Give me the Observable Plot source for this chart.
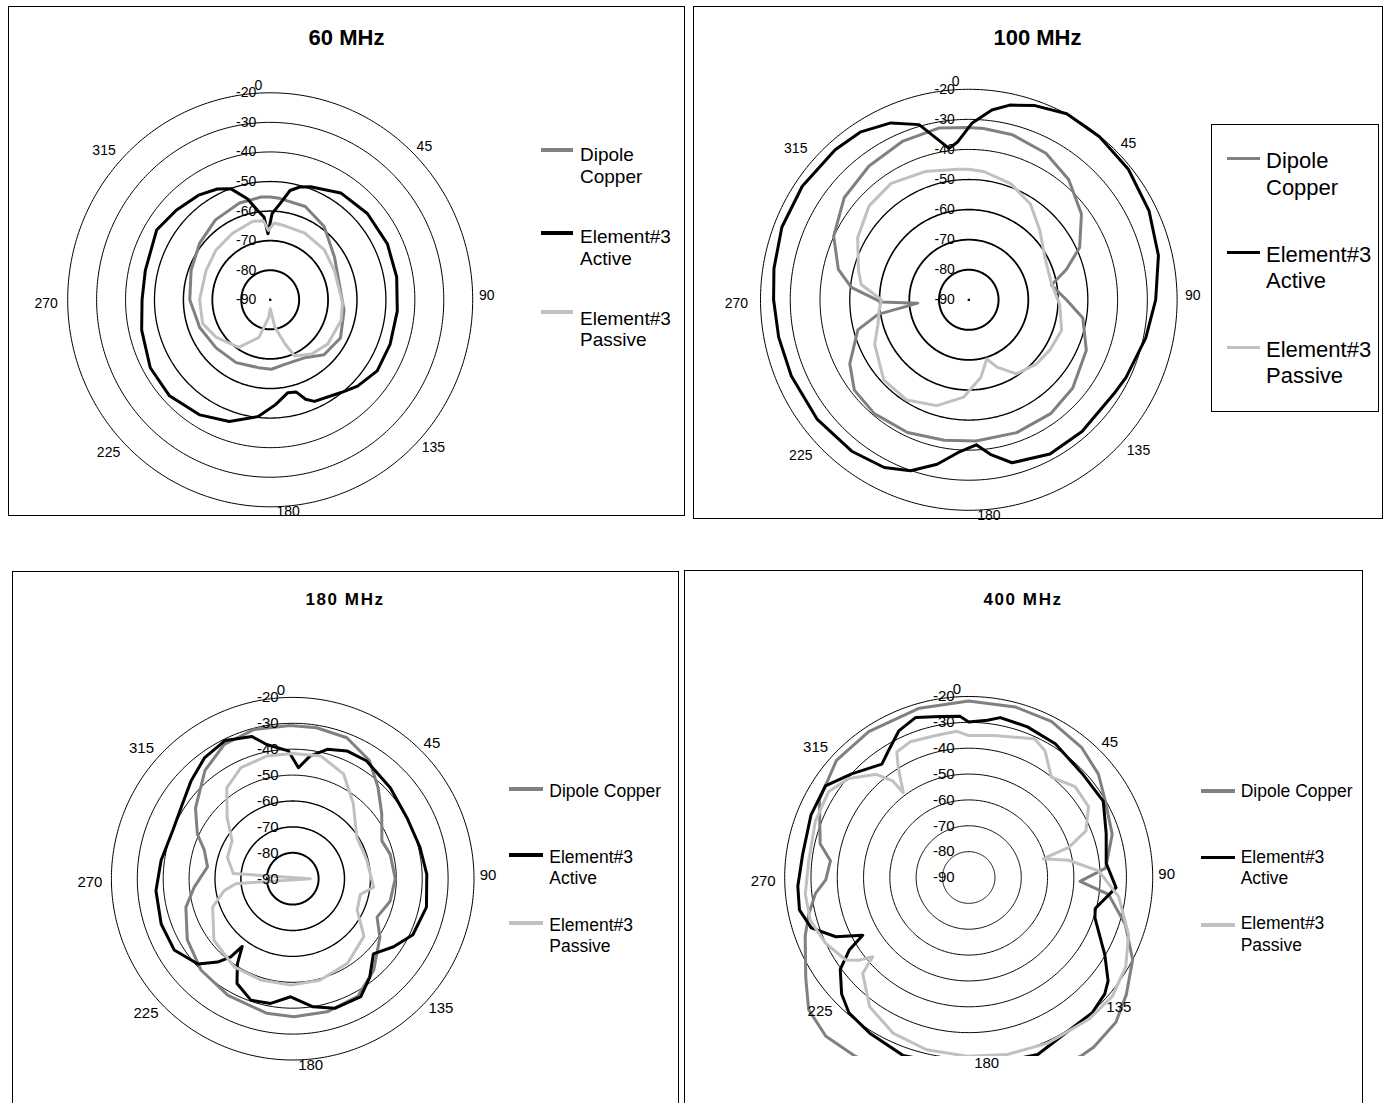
<!DOCTYPE html>
<html><head><meta charset="utf-8">
<script src="https://cdn.jsdelivr.net/npm/d3@7"></script>
<script src="https://cdn.jsdelivr.net/npm/@observablehq/plot@0.6"></script>
<style>
html,body{margin:0;padding:0;background:#fff;overflow:hidden;}
#page{position:relative;width:1384px;height:1103px;overflow:hidden;font-family:"Liberation Sans",Arial,sans-serif;color:#000;background:#fff;}
.box{position:absolute;border:1px solid #000;box-sizing:border-box;}
.title{position:absolute;font-weight:bold;white-space:nowrap;transform:translateX(-50%);line-height:1;}
.leg{position:absolute;white-space:nowrap;}
.sw{position:absolute;}
</style></head><body><div id="page"></div>
<script>
// ---------- data ----------
const PANEL_TITLES = ["60 MHz", "100 MHz", "180 MHz", "400 MHz"];
const SERIES_NAMES = ["Dipole Copper", "Element#3 Active", "Element#3 Passive"];
const SERIES_COLORS = ["#808080", "#000000", "#c0c0c0"];
const ANGLE_LABELS = [0, 45, 90, 135, 180, 225, 270, 315];
const RING_LEVELS = [-90, -80, -70, -60, -50, -40, -30, -20];

// [angle (deg), level (dB)]
const mhz60_dipole = [[0,-55.2],[5,-55.5],[21,-56.2],[37,-59],[57,-63.5],[77,-65.5],[98,-64.2],[118,-62.5],[135,-63.7],[140,-65.2],[149,-67.1],[167,-67.6],[179,-66.5],[190,-66.7],[209,-65.7],[229,-65.2],[249,-63.9],[270,-62.2],[290,-60.9],[308,-59],[325,-57],[342,-55.6],[355,-55.1]];
const mhz60_active = [[1.3,-60.8],[6,-57.3],[10.5,-52.4],[15,-50.5],[20,-49.3],[34,-46.4],[49,-45.5],[65,-45.3],[80,-45.6],[95,-45.9],[110,-45.9],[123,-45.9],[134,-48],[142,-50.2],[156,-52.4],[160,-54.2],[164,-57.6],[169,-58],[177,-54.5],[186,-50.3],[199,-46.5],[212,-44.1],[227,-42.4],[241,-42.6],[257,-44.4],[270,-45.7],[283,-45.7],[301,-44.2],[313,-45.6],[325,-46.8],[334,-48.3],[340,-50],[347,-54.9],[351.7,-59.4],[355.6,-61.9],[358,-67.6]];
const mhz60_passive = [[3,-64],[12,-64.5],[28,-64.5],[48,-64.8],[66,-65.7],[92,-65],[106,-64.5],[127,-65.1],[142,-66.7],[156,-69.2],[161,-74.2],[170,-80.6],[180,-87],[185,-84],[197,-76.7],[214,-70.6],[236,-67.4],[251,-65.3],[270,-65.6],[294,-65.7],[312,-64.8],[330,-64],[347,-62.8],[355,-63.2],[358.5,-66.5]];

const mhz100_dipole = [[0,-32.7],[5,-32.8],[15,-33.2],[28,-34.8],[40,-37.8],[53,-42.6],[65,-48.9],[73,-55.8],[80,-61.8],[90,-57.2],[99,-51.2],[113,-47.1],[130,-44.4],[144,-43.2],[160,-43],[177,-43],[190,-42.6],[205,-41.3],[220,-40.6],[232,-41.2],[242,-44.7],[255,-51.4],[261,-59.1],[266.3,-72.8],[268.5,-60.6],[276,-50.3],[283,-45],[295,-39.9],[309,-36.1],[323,-34.3],[337,-32.8],[350,-32]];
const mhz100_active = [[1,-31.3],[7,-26.4],[12,-23.8],[19,-21.7],[28,-19.9],[39,-20.2],[51,-21],[64,-22.6],[77,-24.6],[90,-27.2],[102,-29.2],[116,-31.2],[122,-32],[139,-32],[152,-31.9],[165,-33.9],[172,-38.1],[177,-41.7],[184,-39.1],[191,-34.3],[199,-29.9],[207,-27.4],[218,-26.1],[232,-25.4],[247,-25.2],[259,-24.9],[270,-24.4],[279,-23.7],[291,-22.7],[304,-22.5],[318,-22.9],[327,-23.4],[336,-25.6],[344,-29.4],[352.5,-39.2],[356,-37.3]];
const mhz100_passive = [[0,-46.6],[7,-47.1],[20,-48.9],[33,-52],[46,-56.8],[61,-60.8],[79,-61.7],[93,-59.4],[108,-57.2],[121,-58],[133,-58.8],[147,-60.6],[157,-65.7],[163,-69.4],[171,-63.9],[183,-57.6],[197,-53.2],[212,-50.7],[227,-50.9],[245,-55.1],[255,-58.4],[262,-59.5],[270,-60.6],[278,-53.5],[285,-51.6],[299,-47.3],[313,-44.2],[326,-43.3],[341,-44.9],[355,-46.4]];

const mhz180_dipole = [[9,-31],[21,-31.7],[33,-35.6],[43,-41.7],[54,-47.5],[67,-52.6],[76,-51.2],[90,-50.4],[103,-51.4],[114.5,-54.2],[124,-49.4],[138.5,-42.8],[151,-38.1],[165.5,-36.9],[179.5,-36.7],[191,-37.1],[209,-38.5],[225,-40],[240,-43],[255,-47.3],[265,-51.8],[278,-56.8],[288,-54.1],[295,-49.4],[306,-43.6],[321,-36.2],[333,-31.8],[345.5,-30.5],[359,-30.8]];
const mhz180_active = [[3,-47.1],[8,-42.2],[15,-38.3],[23,-36.4],[32,-36.3],[47,-38.5],[62,-40],[76,-39.4],[88,-38.2],[102,-37.2],[115,-38.8],[124,-43],[133,-47.4],[142,-41.7],[150,-37.4],[162,-37.4],[171,-39.9],[181,-44.4],[190,-41.1],[199,-40.4],[208,-44.2],[213,-50.8],[216.7,-57.4],[218.4,-51.5],[222,-46.7],[228,-40.8],[239,-36.6],[251,-36.3],[265,-37],[278,-38.7],[292,-40.1],[303,-38.8],[314,-35.5],[324,-32.2],[334,-30.6],[344,-32.9],[349,-37.2],[358,-40.6]];
const mhz180_passive = [[0,-41.7],[13,-41.4],[26,-45.1],[39,-52.8],[57,-60.5],[76,-60.5],[96,-58.6],[103,-63.2],[116,-62.3],[129,-54.6],[147,-51.1],[165,-49.4],[181,-48.9],[197.5,-49],[213.6,-49.1],[232,-51.4],[250.5,-57.2],[260,-63.1],[265,-68],[270,-96.8],[275,-67],[288,-63.5],[302,-62.4],[313,-55.4],[324,-46.7],[335,-42.7],[348,-41.6]];

const mhz400_dipole = [[0,-21.7],[15,-21.7],[27.5,-21.9],[40.6,-23.9],[51,-26.5],[60,-30.1],[73,-32.9],[86,-37.8],[92,-47.6],[97,-36.4],[107,-27.7],[117,-20],[127,-14.9],[135,-10.8],[144,-9],[148,-8.8],[165,-8.5],[180,-8.5],[195,-8.5],[212,-8.5],[221.5,-8],[230,-10.5],[238,-16.9],[250,-23.8],[257,-27.6],[264,-31.4],[269,-35.6],[277,-37],[283,-32],[298,-25.7],[312,-22.3],[326,-22],[344,-21.9]];
const mhz400_active = [[0,-29.9],[6.7,-28.8],[11,-27],[21,-27.6],[32.5,-28.7],[47,-31],[60,-30.9],[72,-35],[84,-37.4],[94,-33.8],[104,-40.4],[108,-39.5],[120,-30.2],[127,-23.6],[131,-21.4],[138,-19.7],[150,-19.2],[159,-16.7],[180,-16],[200,-16.8],[212,-19],[221,-20.6],[227,-23.9],[234,-29.6],[238.3,-36.6],[241,-43.9],[245.6,-34.5],[252,-27],[259,-24.4],[267,-24.9],[278,-26.2],[292,-25.3],[303,-25],[312,-30.1],[323,-35.1],[328,-32.3],[335,-27.3],[342,-24.9],[350,-26.8],[357,-27.6]];
const mhz400_passive = [[0,-35.1],[10,-34.2],[25,-30.8],[30.6,-33],[39,-40],[49,-36.4],[59,-36.8],[68,-41.9],[73,-50.2],[75.7,-60.8],[80,-51.5],[87,-40.5],[97.5,-32.4],[110,-25.3],[120,-21],[130,-18.6],[140,-18.6],[155,-19.2],[168,-20],[180.5,-20.9],[193.5,-21.5],[205.6,-23.3],[217,-27.4],[227.4,-35.2],[230,-42.3],[232.5,-37.5],[235.7,-33.4],[245,-29.9],[254.6,-27.5],[264,-27.5],[276,-28.8],[290.6,-27.7],[302,-27.2],[310,-30.4],[318.6,-36.8],[322.3,-42.8],[322.8,-48.8],[327.7,-39.9],[330.6,-34.3],[337,-33],[347.6,-33.7],[355.5,-33.3]];

// ---------- layout ----------
const panels = [
  {title: PANEL_TITLES[0], series: [mhz60_dipole, mhz60_active, mhz60_passive],
   box: [8, 6, 677, 510], cx: 269.7, cy: 299.3, rx: 202.5, ry: 207,
   titleX: 346.5, titleTop: 27.3, titleSize: 22, titleLS: 0, labelSize: 14, offScale: 1,
   ringW: {"-80": 2, "-70": 1.8, "-60": 1.5, "-50": 1.3}, lineW: 3, dot: true, clipBottom: null,
   legend: {size: 19, lh: 21.5, x: 580, tops: [144, 226, 307.5], swX: [541, 573], swY: [150, 233, 312], wrapAll: true, frame: null}},
  {title: PANEL_TITLES[1], series: [mhz100_dipole, mhz100_active, mhz100_passive],
   box: [693, 6, 690, 513], cx: 968.3, cy: 299.3, rx: 208.3, ry: 210.5,
   titleX: 1037.5, titleTop: 27, titleSize: 22, titleLS: 0, labelSize: 14, offScale: 1.12,
   ringW: {"-80": 2, "-70": 1.8, "-60": 1.6, "-50": 1.3}, lineW: 3, dot: true, clipBottom: null,
   legend: {size: 22, lh: 26.7, x: 1266, tops: [148.3, 241.7, 336.7], swX: [1227, 1260], swY: [158.7, 252.7, 347.7], wrapAll: true, frame: [1211, 124, 168, 288]}},
  {title: PANEL_TITLES[2], series: [mhz180_dipole, mhz180_active, mhz180_passive],
   box: [12, 571, 667, 600], cx: 292.2, cy: 878.2, rx: 181.3, ry: 181.3,
   titleX: 345, titleTop: 591, titleSize: 17, titleLS: 1.6, labelSize: 15, offScale: 1,
   ringW: {"-80": 2, "-70": 1.5, "-60": 1.3}, lineW: 3, dot: true, clipBottom: null,
   legend: {size: 17.5, lh: 21, x: 549.3, tops: [781.1, 847.4, 915.1], swX: [509.3, 543.3], swY: [789, 855, 923], wrapAll: false, frame: null}},
  {title: PANEL_TITLES[3], series: [mhz400_dipole, mhz400_active, mhz400_passive],
   box: [684, 570, 679, 600], cx: 968.2, cy: 877, rx: 184, ry: 181,
   titleX: 1023, titleTop: 591, titleSize: 17, titleLS: 1.6, labelSize: 15, offScale: 1,
   ringW: {}, lineW: 3, dot: false, clipBottom: 1056,
   legend: {size: 17.5, lh: 21.5, x: 1240.7, tops: [780.7, 846.7, 913.4], swX: [1201, 1235], swY: [791, 857.7, 925], wrapAll: false, frame: null}}
];

// pixel offset of each angle label's centre from the outer ring point at that angle
const LABEL_OFF = {0: [-11.8, -7], 45: [11, -7], 90: [14, -3.8], 135: [20, 1.5], 180: [18, 5], 225: [-18.5, 6], 270: [-21.5, 3.5], 315: [-23, -2.5]};
const rad = d => d * Math.PI / 180;
const px = (deg, db) => (db + 90) * Math.sin(rad(deg));
const py = (deg, db) => (db + 90) * Math.cos(rad(deg));
const FONT = '"Liberation Sans", Arial, sans-serif';

const page = document.getElementById("page");

panels.forEach((P) => {
  const b = document.createElement("div");
  b.className = "box";
  Object.assign(b.style, {left: P.box[0] + "px", top: P.box[1] + "px", width: P.box[2] + "px", height: P.box[3] + "px"});
  page.appendChild(b);

  const ux = P.rx / 70, uy = P.ry / 70;
  const clip = P.clipBottom != null;
  const ringAngles = d3.range(0, 360, 1);
  const marks = [];
  RING_LEVELS.filter(L => L > -90).forEach(L => {
    marks.push(Plot.line(ringAngles, {
      x: a => px(a, L), y: a => py(a, L), curve: "linear-closed",
      stroke: "#000", strokeWidth: P.ringW[String(L)] || 1, clip
    }));
  });
  if (P.dot) marks.push(Plot.dot([[0, -90]], {x: d => px(d[0], d[1]), y: d => py(d[0], d[1]), symbol: "square", r: 1.3, fill: "#000", stroke: "none"}));
  P.series.forEach((s, i) => {
    marks.push(Plot.line(s, {
      x: d => px(d[0], d[1]), y: d => py(d[0], d[1]), curve: "linear-closed",
      stroke: SERIES_COLORS[i], strokeWidth: P.lineW, strokeLinejoin: "round", clip
    }));
  });
  marks.push(Plot.text(RING_LEVELS, {
    x: () => 0, y: L => L + 90, text: L => String(L), textAnchor: "end", dx: -14,
    fontSize: P.labelSize, fill: "#000"
  }));
  marks.push(Plot.text(ANGLE_LABELS, {
    x: a => 70 * Math.sin(rad(a)) + LABEL_OFF[a][0] * P.offScale / ux,
    y: a => 70 * Math.cos(rad(a)) - LABEL_OFF[a][1] * P.offScale / uy,
    text: a => String(a), textAnchor: "middle", fontSize: P.labelSize, fill: "#000"
  }));

  const svg = Plot.plot({
    width: 1384, height: 1103,
    marginLeft: 0, marginRight: 0, marginTop: 0,
    marginBottom: clip ? 1103 - P.clipBottom : 0,
    x: {type: "linear", domain: [-70, 70], range: [P.cx - P.rx, P.cx + P.rx], axis: null},
    y: {type: "linear", domain: [-70, 70], range: [P.cy + P.ry, P.cy - P.ry], axis: null},
    style: {background: "transparent", overflow: "visible", fontFamily: FONT, color: "#000"},
    marks
  });
  svg.style.position = "absolute";
  svg.style.left = "0px";
  svg.style.top = "0px";
  svg.style.maxWidth = "none";
  svg.style.background = "transparent";
  page.appendChild(svg);

  const t = document.createElement("div");
  t.className = "title";
  t.textContent = P.title;
  Object.assign(t.style, {left: P.titleX + "px", top: P.titleTop + "px", fontSize: P.titleSize + "px", letterSpacing: P.titleLS + "px"});
  page.appendChild(t);

  const Lg = P.legend;
  if (Lg.frame) {
    const f = document.createElement("div");
    f.className = "box";
    Object.assign(f.style, {left: Lg.frame[0] + "px", top: Lg.frame[1] + "px", width: Lg.frame[2] + "px", height: Lg.frame[3] + "px", background: "#fff"});
    page.appendChild(f);
  }
  SERIES_NAMES.forEach((name, i) => {
    const sw = document.createElement("div");
    sw.className = "sw";
    Object.assign(sw.style, {left: Lg.swX[0] + "px", top: (Lg.swY[i] - 1.75) + "px", width: (Lg.swX[1] - Lg.swX[0]) + "px", height: "3.5px", background: SERIES_COLORS[i]});
    page.appendChild(sw);
    const lines = (Lg.wrapAll || name.startsWith("Element")) ? name.split(" ") : [name];
    const tx = document.createElement("div");
    tx.className = "leg";
    tx.innerHTML = lines.join("<br>");
    Object.assign(tx.style, {left: Lg.x + "px", top: Lg.tops[i] + "px", fontSize: Lg.size + "px", lineHeight: Lg.lh + "px"});
    page.appendChild(tx);
  });
});
</script></body></html>
